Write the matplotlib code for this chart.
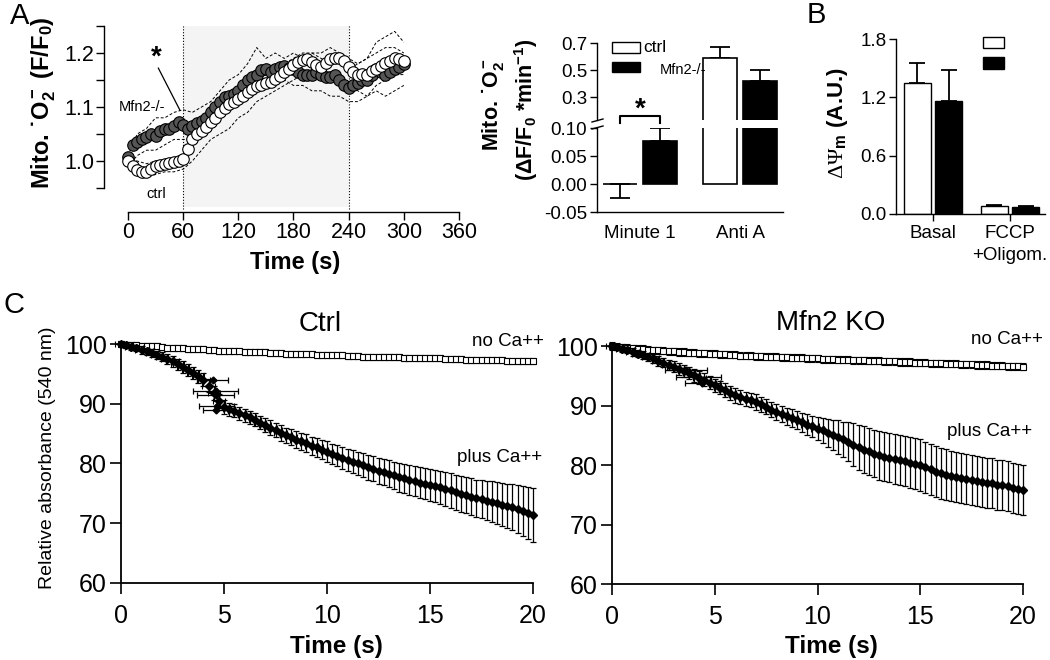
import matplotlib
matplotlib.use("Agg")
import matplotlib.pyplot as plt
from matplotlib.transforms import Affine2D
from matplotlib.patches import Rectangle
from matplotlib.lines import Line2D

plt.rcParams.update({
    "font.family": ["Liberation Sans", "DejaVu Sans"],
    "axes.unicode_minus": False,
    "mathtext.fontset": "custom",
    "mathtext.rm": "Liberation Serif",
    "mathtext.bf": "Liberation Sans:bold",
    "mathtext.it": "Liberation Sans:italic",
    "mathtext.sf": "Liberation Sans",
    "axes.linewidth": 1.0,
})

# ---------------- Panel A (left): mitochondrial superoxide time course ----------------
a_time = list(range(0, 301, 5))
a_ctrl = [1.000, 0.990, 0.984, 0.979, 0.980, 0.986, 0.990, 0.993, 0.995, 0.996,
          0.998, 1.000, 1.004, 1.022, 1.040, 1.050, 1.056, 1.063, 1.072, 1.080,
          1.090, 1.098, 1.105, 1.110, 1.115, 1.120, 1.127, 1.133, 1.138, 1.141,
          1.144, 1.147, 1.151, 1.158, 1.165, 1.171, 1.177, 1.183, 1.187, 1.188,
          1.183, 1.177, 1.175, 1.181, 1.189, 1.191, 1.190, 1.186, 1.175, 1.165,
          1.160, 1.162, 1.160, 1.166, 1.171, 1.176, 1.181, 1.186, 1.190, 1.189,
          1.185]
a_mfn2 = [1.008, 1.030, 1.035, 1.040, 1.045, 1.050, 1.046, 1.055, 1.060, 1.060,
          1.065, 1.072, 1.066, 1.060, 1.064, 1.070, 1.075, 1.080, 1.090, 1.100,
          1.110, 1.118, 1.120, 1.125, 1.130, 1.140, 1.150, 1.155, 1.160, 1.168,
          1.170, 1.165, 1.170, 1.175, 1.176, 1.172, 1.170, 1.165, 1.160, 1.160,
          1.160, 1.165, 1.160, 1.155, 1.155, 1.160, 1.150, 1.140, 1.135, 1.140,
          1.145, 1.150, 1.150, 1.160, 1.170, 1.165, 1.160, 1.165, 1.170, 1.175,
          1.180]
a_env_time = list(range(0, 301, 10))
a_mfn2_hi = [1.01, 1.05, 1.06, 1.08, 1.08, 1.09, 1.095, 1.09, 1.10, 1.11, 1.13, 1.15, 1.16,
             1.18, 1.21, 1.19, 1.20, 1.19, 1.20, 1.19, 1.20, 1.19, 1.18, 1.19, 1.17, 1.18,
             1.19, 1.22, 1.23, 1.24, 1.22]
a_mfn2_lo = [0.99, 1.01, 1.02, 1.02, 1.03, 1.04, 1.04, 1.04, 1.05, 1.06, 1.08, 1.10, 1.11,
             1.12, 1.13, 1.14, 1.14, 1.15, 1.14, 1.14, 1.13, 1.13, 1.12, 1.12, 1.11, 1.11,
             1.12, 1.13, 1.12, 1.13, 1.14]
a_ctrl_hi = [1.01, 1.00, 0.995, 1.00, 1.00, 1.005, 1.01, 1.04, 1.07, 1.08, 1.10, 1.12, 1.13,
             1.14, 1.15, 1.16, 1.17, 1.18, 1.19, 1.20, 1.20, 1.20, 1.21, 1.20, 1.19, 1.18,
             1.19, 1.20, 1.21, 1.21, 1.20]
a_ctrl_lo = [0.99, 0.975, 0.97, 0.975, 0.98, 0.98, 0.985, 1.00, 1.02, 1.04, 1.05, 1.06, 1.08,
             1.09, 1.11, 1.12, 1.13, 1.14, 1.15, 1.16, 1.16, 1.15, 1.15, 1.16, 1.14, 1.13,
             1.12, 1.14, 1.15, 1.16, 1.16]
a_xticks = [0, 60, 120, 180, 240, 300, 360]
a_window = [60, 240]

# ---------------- Panel A (right): rates, broken axis ----------------
a2_categories = ["Minute 1", "Anti A"]
a2_ctrl = [0.0, 0.59]
a2_ctrl_err = [0.025, 0.08]
a2_mfn2 = [0.077, 0.42]
a2_mfn2_err = [0.023, 0.08]
a2_low_ticks = [-0.05, 0.00, 0.05, 0.10]
a2_high_ticks = [0.3, 0.5, 0.7]

# ---------------- Panel B: membrane potential ----------------
b_categories = ["Basal", "FCCP\n+Oligom."]
b_ctrl = [1.35, 0.082]
b_ctrl_err = [0.20, 0.012]
b_mfn2 = [1.16, 0.072]
b_mfn2_err = [0.32, 0.008]
b_yticks = [0.0, 0.6, 1.2, 1.8]

# ---------------- Panel C: swelling (absorbance 540 nm) ----------------
c_time = [i * 0.25 for i in range(81)]
c_ctrl_noca = [100.0, 99.9, 99.9, 99.8, 99.7, 99.7, 99.6, 99.6, 99.5, 99.4,
               99.4, 99.3, 99.3, 99.2, 99.2, 99.1, 99.1, 99.0, 99.0, 98.9,
               98.9, 98.8, 98.8, 98.8, 98.7, 98.7, 98.6, 98.6, 98.6, 98.5,
               98.5, 98.5, 98.4, 98.4, 98.4, 98.3, 98.3, 98.3, 98.2, 98.2,
               98.2, 98.1, 98.1, 98.1, 98.0, 98.0, 98.0, 97.9, 97.9, 97.9,
               97.9, 97.8, 97.8, 97.8, 97.8, 97.7, 97.7, 97.7, 97.7, 97.6,
               97.6, 97.6, 97.6, 97.5, 97.5, 97.5, 97.5, 97.4, 97.4, 97.4,
               97.4, 97.3, 97.3, 97.3, 97.3, 97.2, 97.2, 97.2, 97.1, 97.1,
               97.1]
c_ctrl_noca_err = 0.5
c_ctrl_ca = [100.0, 99.8, 99.5, 99.3, 99.0, 98.8, 98.5, 98.2, 97.9, 97.5,
             97.1, 96.6, 96.1, 95.6, 95.1, 94.6, 94.0, 93.0, 91.8, 90.5,
             89.5, 89.1, 88.8, 88.4, 88.1, 87.7, 87.3, 86.8, 86.4, 86.0,
             85.6, 85.1, 84.7, 84.4, 84.0, 83.7, 83.4, 83.0, 82.7, 82.3,
             82.0, 81.6, 81.3, 80.9, 80.6, 80.3, 80.0, 79.7, 79.4, 79.1,
             78.8, 78.6, 78.3, 78.0, 77.7, 77.5, 77.2, 77.0, 76.8, 76.6,
             76.4, 76.2, 76.0, 75.7, 75.5, 75.2, 74.9, 74.7, 74.4, 74.2,
             74.0, 73.8, 73.6, 73.4, 73.1, 72.9, 72.7, 72.4, 72.0, 71.7,
             71.4]
c_ctrl_ca_err = [0.3, 0.4, 0.5, 0.5, 0.6, 0.6, 0.7, 0.7, 0.8, 0.8,
                 0.9, 0.9, 1.0, 1.0, 1.0, 1.1, 1.1, 1.1, 1.2, 1.2,
                 1.2, 1.1, 1.1, 1.1, 1.1, 1.1, 1.1, 1.1, 1.2, 1.2,
                 1.2, 1.3, 1.3, 1.3, 1.4, 1.4, 1.5, 1.5, 1.6, 1.6,
                 1.7, 1.7, 1.8, 1.8, 1.9, 1.9, 2.0, 2.0, 2.1, 2.1,
                 2.2, 2.2, 2.3, 2.3, 2.4, 2.4, 2.5, 2.5, 2.6, 2.6,
                 2.7, 2.7, 2.8, 2.8, 2.9, 2.9, 3.0, 3.0, 3.1, 3.1,
                 3.2, 3.3, 3.4, 3.5, 3.6, 3.7, 3.9, 4.0, 4.2, 4.3,
                 4.5]
c_ctrl_hx_t = [4.45, 4.6, 4.6, 4.65, 4.6]
c_ctrl_hx_v = [94.0, 92.1, 91.5, 89.6, 89.0]
c_ctrl_hx_err = [0.75, 1.1, 0.9, 0.85, 0.6]

c_ko_noca = [100.0, 99.9, 99.8, 99.7, 99.6, 99.5, 99.5, 99.4, 99.3, 99.3,
             99.2, 99.1, 99.1, 99.0, 99.0, 98.9, 98.9, 98.8, 98.8, 98.7,
             98.7, 98.6, 98.6, 98.5, 98.5, 98.4, 98.4, 98.4, 98.3, 98.3,
             98.2, 98.2, 98.2, 98.1, 98.1, 98.0, 98.0, 98.0, 97.9, 97.9,
             97.9, 97.8, 97.8, 97.8, 97.7, 97.7, 97.7, 97.6, 97.6, 97.6,
             97.5, 97.5, 97.5, 97.4, 97.4, 97.4, 97.3, 97.3, 97.3, 97.2,
             97.2, 97.2, 97.1, 97.1, 97.1, 97.0, 97.0, 97.0, 96.9, 96.9,
             96.9, 96.8, 96.8, 96.8, 96.7, 96.7, 96.7, 96.6, 96.6, 96.6,
             96.5]
c_ko_noca_err = 0.6
c_ko_ca = [100.0, 99.8, 99.5, 99.3, 99.0, 98.7, 98.5, 98.2, 97.9, 97.5,
           97.2, 96.8, 96.5, 96.1, 95.8, 95.4, 95.1, 94.7, 94.3, 93.8,
           93.4, 93.0, 92.6, 92.1, 91.7, 91.4, 91.1, 90.9, 90.6, 90.2,
           89.8, 89.3, 88.9, 88.6, 88.2, 87.9, 87.5, 87.2, 86.8, 86.5,
           86.1, 85.8, 85.4, 85.1, 84.7, 84.3, 83.9, 83.4, 83.0, 82.6,
           82.3, 81.9, 81.6, 81.4, 81.2, 81.0, 80.8, 80.6, 80.4, 80.2,
           80.0, 79.6, 79.3, 78.9, 78.6, 78.4, 78.2, 78.0, 77.8, 77.6,
           77.5, 77.3, 77.2, 77.0, 76.9, 76.7, 76.6, 76.4, 76.2, 76.0,
           75.8]
c_ko_ca_err = [0.3, 0.4, 0.5, 0.5, 0.6, 0.6, 0.7, 0.7, 0.8, 0.8,
               0.8, 0.9, 0.9, 1.0, 1.0, 1.0, 1.1, 1.1, 1.1, 1.1,
               1.1, 1.1, 1.1, 1.2, 1.2, 1.2, 1.2, 1.2, 1.3, 1.3,
               1.3, 1.3, 1.4, 1.4, 1.4, 1.5, 1.5, 1.6, 1.7, 1.8,
               1.9, 2.1, 2.3, 2.5, 2.8, 3.0, 3.3, 3.6, 3.8, 3.9,
               4.0, 4.0, 4.1, 4.1, 4.1, 4.2, 4.2, 4.2, 4.3, 4.3,
               4.3, 4.3, 4.3, 4.3, 4.3, 4.3, 4.2, 4.2, 4.2, 4.2,
               4.2, 4.2, 4.2, 4.2, 4.2, 4.2, 4.2, 4.2, 4.2, 4.2,
               4.2]
c_ko_hx_t = [3.6, 4.2, 4.4]
c_ko_hx_v = [95.9, 94.8, 93.7]
c_ko_hx_err = [1.0, 1.1, 0.85]
c_early_xerr = 0.3      # horizontal (time) error on early plus-Ca points
c_early_count = 41      # points with visible time error (first 10 s)
c_xticks = [0, 5, 10, 15, 20]
c_yticks = [60, 70, 80, 90, 100]

# ======================================================================
W, H = 1050, 660
fig = plt.figure(figsize=(W / 100, H / 100), dpi=100)
PX = Affine2D().scale(1.0 / W, -1.0 / H).translate(0, 1) + fig.transFigure


def add_ax(l, t, r, b):
    return fig.add_axes([l / W, 1 - b / H, (r - l) / W, (b - t) / H])


def ptext(x, y, s, **kw):
    kw.setdefault("ha", "center")
    kw.setdefault("va", "center")
    return fig.text(x, y, s, transform=PX, **kw)


def prect(x0, y0, x1, y1, fc):
    fig.add_artist(Rectangle((x0, y0), x1 - x0, y1 - y0, transform=PX,
                             facecolor=fc, edgecolor="black", lw=1.0))


def pline(xs, ys, lw=1.0):
    fig.add_artist(Line2D(xs, ys, transform=PX, color="black", lw=lw))


def clean(ax):
    ax.spines["top"].set_visible(False)
    ax.spines["right"].set_visible(False)
    ax.patch.set_visible(False)


# ---------------- A1 ----------------
ax = add_ax(104, 26, 459, 212)
clean(ax)
ax.set_xlim(-26.1, 360)
ax.set_ylim(0.9056, 1.25)
ax.spines["left"].set_bounds(0.95, 1.25)
ax.spines["bottom"].set_bounds(0, 360)
ax.axvspan(a_window[0], a_window[1], ymin=0.027, ymax=1.0, color="#f4f4f4", lw=0, zorder=0)
ax.vlines(a_window, 0.912, 1.25, colors="black", linestyles=(0, (1, 1.6)), lw=0.8, zorder=1)
for hi, lo in [(a_mfn2_hi, a_mfn2_lo), (a_ctrl_hi, a_ctrl_lo)]:
    ax.plot(a_env_time, hi, color="black", lw=0.7, ls=(0, (3, 2)), zorder=2)
    ax.plot(a_env_time, lo, color="black", lw=0.7, ls=(0, (3, 2)), zorder=2)
ax.plot(a_time, a_mfn2, "o", ms=8.3, mfc="#555555", mec="black", mew=0.8, zorder=3)
ax.plot(a_time, a_ctrl, "o", ms=8.3, mfc="white", mec="black", mew=0.8, zorder=4)
ax.set_xticks(a_xticks)
ax.set_yticks([1.0, 1.1, 1.2])
ax.set_yticklabels(["1.0", "1.1", "1.2"])
ax.set_yticks([0.95, 1.05, 1.15, 1.25], minor=True)
ax.tick_params(which="both", direction="out", length=6, width=1.0, labelsize=15.5, pad=1)
ax.text(31, 1.192, "*", fontsize=20, fontweight="bold", ha="center", va="center")
ax.plot([33, 56.5], [1.172, 1.094], color="black", lw=0.9)
ax.text(15, 1.10, "Mfn2-/-", fontsize=10.5, ha="center", va="center")
ax.text(30.4, 0.939, "ctrl", fontsize=10.5, ha="center", va="center")
ptext(295, 262, "Time (s)", fontsize=17, fontweight="bold")
ptext(44, 103, "Mito. ˙$\\mathbf{O_2^-}$ (F/F$_\\mathbf{0}$)", fontsize=17,
      fontweight="bold", rotation=90)

# ---------------- A2 (broken axis) ----------------
lo_ax = add_ax(597, 128, 783, 212)
hi_ax = add_ax(597, 43, 783, 120)
pos = [0, 1]
bw = 0.34
for axx in (lo_ax, hi_ax):
    clean(axx)
    axx.set_xlim(-0.43, 1.43)
    for vals, errs, fc, off in [(a2_ctrl, a2_ctrl_err, "white", -0.2),
                                 (a2_mfn2, a2_mfn2_err, "black", 0.2)]:
        xs = [p + off for p in pos]
        axx.bar(xs, vals, width=bw, color=fc, edgecolor="black", lw=1.2, zorder=2)
        down = [e if v <= 0 else 0 for v, e in zip(vals, errs)]
        up = [e if v > 0 else 0 for v, e in zip(vals, errs)]
        axx.errorbar(xs, vals, yerr=[down, up], fmt="none", ecolor="black",
                     elinewidth=1.3, capsize=7, capthick=1.3, zorder=1)
lo_ax.set_ylim(-0.05, 0.10)
hi_ax.set_ylim(0.13, 0.70)
lo_ax.set_yticks(a2_low_ticks)
lo_ax.set_yticklabels(["%.2f" % v for v in a2_low_ticks])
hi_ax.set_yticks(a2_high_ticks)
hi_ax.set_yticklabels(["%.1f" % v for v in a2_high_ticks])
hi_ax.spines["bottom"].set_visible(False)
hi_ax.set_xticks([])
lo_ax.set_xticks(pos)
lo_ax.set_xticklabels(a2_categories)
lo_ax.tick_params(axis="x", length=0, pad=9, labelsize=13.5)
for axx in (lo_ax, hi_ax):
    axx.tick_params(axis="y", direction="out", length=5, width=1.0, labelsize=13.5, pad=2)
# significance bracket
lo_ax.plot([-0.2, -0.2, 0.2, 0.2], [0.109, 0.1214, 0.1214, 0.109], color="black",
           lw=1.5, clip_on=False, zorder=5)
lo_ax.text(0.0, 0.133, "*", fontsize=20, fontweight="bold", ha="center", va="center",
           clip_on=False, zorder=5)
# break marks
pline([592, 603], [122, 119])
pline([592, 603], [129, 126])
# legend
prect(612, 42, 640, 53, "white")
prect(612, 62, 640, 72, "black")
ptext(643, 48, "ctrl", fontsize=12.5, ha="left")
ptext(660, 70, "Mfn2-/-", fontsize=10.5, ha="left")
ptext(492, 105, "Mito. ˙$\\mathbf{O_2^-}$", fontsize=15.5, fontweight="bold", rotation=90)
ptext(526, 110, "(ΔF/F$_\\mathbf{0}$ *min$^\\mathbf{-1}$)", fontsize=15.5,
      fontweight="bold", rotation=90)

# ---------------- B ----------------
bx = add_ax(896, 39, 1045, 214)
clean(bx)
bx.set_xlim(-0.48, 1.455)
bx.set_ylim(0, 1.8)
bpos = [0, 1]
for vals, errs, fc, off in [(b_ctrl, b_ctrl_err, "white", -0.205),
                             (b_mfn2, b_mfn2_err, "black", 0.205)]:
    xs = [p + off for p in bpos]
    bx.bar(xs, vals, width=0.35, color=fc, edgecolor="black", lw=1.0, zorder=2)
    bx.errorbar(xs, vals, yerr=[[0] * len(errs), errs], fmt="none", ecolor="black",
                elinewidth=1.3, capsize=5.5, capthick=1.3, zorder=1)
bx.set_yticks(b_yticks)
bx.set_yticklabels(["%.1f" % v for v in b_yticks])
bx.set_xticks(bpos)
bx.set_xticklabels(b_categories, linespacing=1.4)
bx.tick_params(direction="out", length=5, width=1.0, labelsize=13.5, pad=2)
bx.tick_params(axis="x", pad=3)
prect(983, 37, 1004, 48, "white")
prect(983, 57, 1004, 69, "black")
ptext(838, 123, "$\\mathrm{\\Delta\\Psi}_\\mathbf{m}$ (A.U.)", fontsize=16,
      fontweight="bold", rotation=90)

# ---------------- C ----------------
panels = [
    (add_ax(121, 344, 533, 583), c_ctrl_noca, c_ctrl_noca_err, c_ctrl_ca, c_ctrl_ca_err,
     c_ctrl_hx_t, c_ctrl_hx_v, c_ctrl_hx_err),
    (add_ax(612, 346, 1023, 584), c_ko_noca, c_ko_noca_err, c_ko_ca, c_ko_ca_err,
     c_ko_hx_t, c_ko_hx_v, c_ko_hx_err),
]
for cax, noca, noca_err, ca, ca_err, hxt, hxv, hxe in panels:
    clean(cax)
    cax.set_xlim(0, 20)
    cax.set_ylim(60, 100)
    cax.errorbar(c_time, noca, yerr=noca_err, fmt="s", ms=5, mfc="white", mec="black",
                 mew=0.8, ecolor="black", elinewidth=0.8, capsize=2.2, capthick=0.8,
                 clip_on=False, zorder=3)
    cax.errorbar(c_time, ca, yerr=ca_err, fmt="D", ms=4.2, color="black",
                 ecolor="black", elinewidth=0.9, capsize=2.3, capthick=0.9,
                 clip_on=False, zorder=4)
    cax.errorbar(c_time[:c_early_count], ca[:c_early_count], xerr=c_early_xerr,
                 fmt="none", ecolor="black", elinewidth=0.8, capsize=2.0, capthick=0.8,
                 clip_on=False, zorder=4)
    cax.errorbar(hxt, hxv, xerr=hxe, fmt="D", ms=3.5, color="black", ecolor="black",
                 elinewidth=0.9, capsize=2.3, capthick=0.9, clip_on=False, zorder=4)
    cax.set_xticks(c_xticks)
    cax.set_yticks(c_yticks)
    cax.tick_params(direction="out", length=8, width=1.2, labelsize=18)
    cax.tick_params(axis="x", pad=7)
    cax.tick_params(axis="y", pad=2)
    for sp in ("left", "bottom"):
        cax.spines[sp].set_linewidth(1.3)

ptext(320, 324, "Ctrl", fontsize=20)
ptext(831, 323, "Mfn2 KO", fontsize=20)
ptext(508, 341, "no Ca++", fontsize=13.5)
ptext(1007, 340, "no Ca++", fontsize=13.5)
ptext(500, 457, "plus Ca++", fontsize=13.5)
ptext(990, 432, "plus Ca++", fontsize=13.5)
ptext(336, 646, "Time (s)", fontsize=17.5, fontweight="bold")
ptext(831, 646, "Time (s)", fontsize=17.5, fontweight="bold")
ptext(48, 458, "Relative absorbance (540 nm)", fontsize=14, rotation=90)

# panel letters
ptext(20, 16, "A", fontsize=21)
ptext(816, 15, "B", fontsize=21)
ptext(14, 305, "C", fontsize=21)

fig.savefig("out.png", dpi=100)
